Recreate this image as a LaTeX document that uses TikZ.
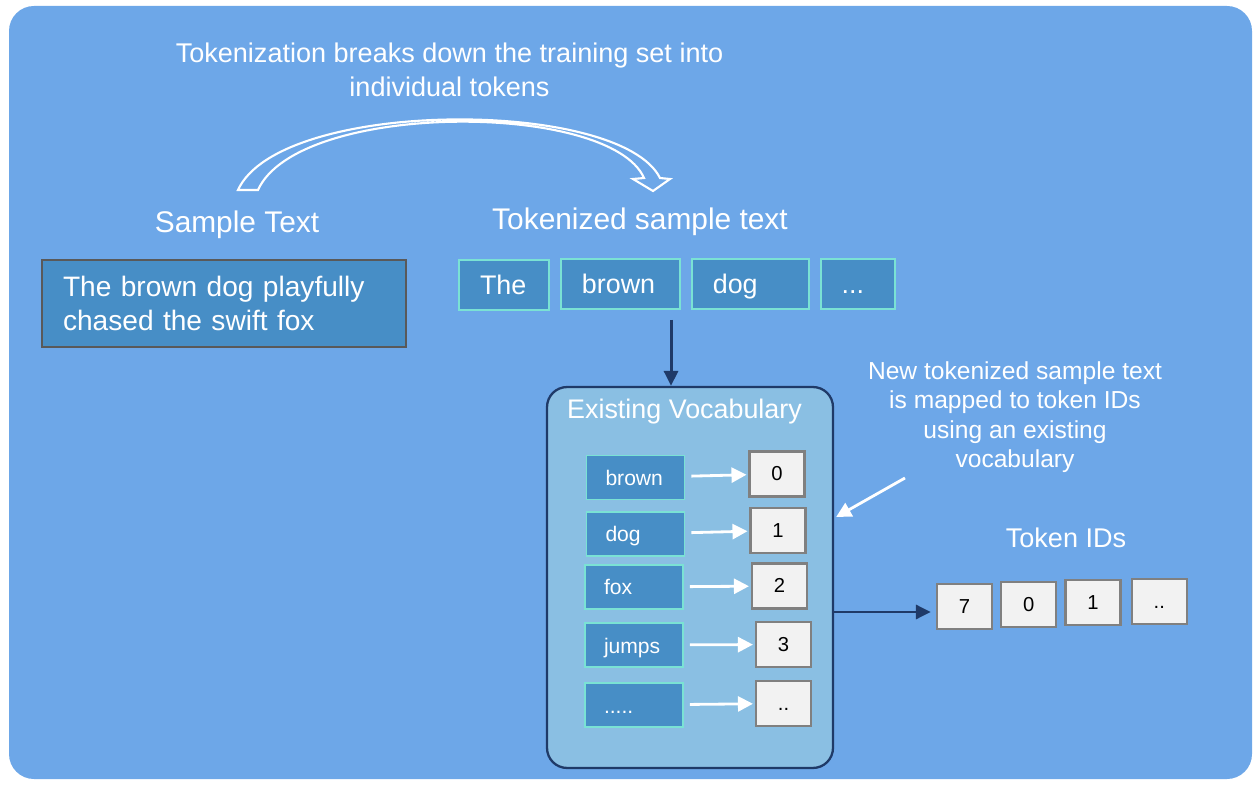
\documentclass[tikz,border=0pt]{standalone}
\usepackage{fontspec}
\setmainfont{Liberation Sans}
\usepackage{tikz}
\usetikzlibrary{arrows.meta, positioning}
\definecolor{canvasblue}{RGB}{109,167,232}
\definecolor{tokenblue}{RGB}{71,142,198}
\definecolor{vocabblue}{RGB}{138,191,227}
\definecolor{aquaedge}{RGB}{122,226,212}
\definecolor{navyline}{RGB}{31,58,104}
\definecolor{idgray}{RGB}{128,128,128}
\definecolor{idfill}{RGB}{242,242,242}

\begin{document}
\begin{tikzpicture}[
    x=0.02cm, y=-0.02cm,
    heading/.style={text=white, font=\fontsize{17}{20}\selectfont},
    tokbox/.style={rectangle, draw=aquaedge, fill=tokenblue, line width=1.1pt, text=white,
        font=\fontsize{15.3}{18}\selectfont, minimum height=1.0cm, inner xsep=0.42cm, inner ysep=0pt,
        text height=0.48cm, text depth=0.1cm, align=left},
    wordbox/.style={rectangle, draw=aquaedge, fill=tokenblue, line width=1.1pt, text=white,
        font=\fontsize{12}{14}\selectfont, minimum height=0.88cm, text width=1.2cm, inner xsep=0.38cm,
        inner ysep=0pt, text height=0.4cm, text depth=0.08cm, align=left},
    idbox/.style={rectangle, draw=idgray, fill=idfill, line width=1.3pt,
        font=\fontsize{11.5}{14}\selectfont, minimum width=1.1cm, minimum height=0.9cm,
        inner ysep=0pt, text height=0.32cm, text depth=0.05cm},
    darrow/.style={-{Triangle[length=0.3cm, width=0.28cm]}, navyline, line width=1.7pt},
    warrow/.style={-{Triangle[length=0.3cm, width=0.3cm]}, white, line width=1.6pt}
]
    \useasboundingbox (0,0) rectangle (1260,786);
    \fill[canvasblue, rounded corners=0.5cm] (9,6) rectangle (1252,779);

    % Title
    \node[text=white, align=center, font=\fontsize{15.4}{19.4}\selectfont] (title) at (449.5,70)
        {Tokenization breaks down the training set into\\individual tokens};

    % Curved block arrow
    \draw[white, line width=1.2pt, line join=miter]
        (238,190) .. controls (280,98) and (620,98) .. (660,178)
        -- (670,179) -- (653,191) -- (633,179) -- (644,178)
        .. controls (610,101) and (298,101) .. (258,190) -- cycle;

    % Sample text
    \node[heading] (samplelabel) at (237,225) {Sample Text};
    \node[rectangle, draw=black!65, fill=tokenblue, line width=1.1pt, text=white,
        font=\fontsize{16}{19.4}\selectfont, minimum width=7.28cm, minimum height=1.74cm,
        text width=6.44cm, inner xsep=0.42cm, align=left] (sample) at (224,303.5)
        {The brown dog playfully\\chased the swift fox};

    % Tokenized sample text
    \node[heading] (toklabel) at (640,222) {Tokenized sample text};
    \node[tokbox, text width=0.96cm] (tok1) at (504,285) {The};
    \node[tokbox, text width=1.54cm, right=0.2cm of tok1, yshift=0.02cm] (tok2) {brown};
    \node[tokbox, text width=1.5cm, right=0.2cm of tok2] (tok3) {dog};
    \node[tokbox, text width=0.64cm, right=0.2cm of tok3] (tok4) {...};

    % Existing vocabulary
    \node[rectangle, draw=navyline, fill=vocabblue, line width=1.3pt, rounded corners=0.4cm,
        minimum width=5.72cm, minimum height=7.62cm] (vocab) at (690,577.5) {};
    \node[text=white, anchor=west, font=\fontsize{15.3}{18}\selectfont] (vocablabel) at (561,412)
        {Existing Vocabulary};

    \coordinate (split) at (671,320);
    \draw[darrow] (split) -- (split |- vocab.north);

    % Vocabulary entries
    \node[wordbox] (wbrown) at (635.5,477.5) {brown};
    \node[wordbox] (wdog) at (635.5,534) {dog};
    \node[wordbox] (wfox) at (634,587) {fox};
    \node[wordbox] (wjumps) at (634,645) {jumps};
    \node[wordbox] (wmore) at (634,705) {.....};

    \node[idbox, right=1.26cm of wbrown, yshift=0.07cm] (v0) {0};
    \node[idbox, right=1.28cm of wdog, yshift=0.07cm] (v1) {1};
    \node[idbox, right=1.34cm of wfox, yshift=0.02cm] (v2) {2};
    \node[idbox, right=1.42cm of wjumps, yshift=0.01cm] (v3) {3};
    \node[idbox, right=1.42cm of wmore, yshift=0.03cm] (vmore) {..};

    \draw[warrow, shorten <=0.12cm, shorten >=0.04cm] (wbrown) -- (v0);
    \draw[warrow, shorten <=0.12cm, shorten >=0.04cm] (wdog) -- (v1);
    \draw[warrow, shorten <=0.12cm, shorten >=0.04cm] (wfox) -- (v2);
    \draw[warrow, shorten <=0.12cm, shorten >=0.04cm] (wjumps) -- (v3);
    \draw[warrow, shorten <=0.12cm, shorten >=0.04cm] (wmore) -- (vmore);

    % Mapping note
    \node[text=white, align=center, font=\fontsize{14}{16.7}\selectfont] (mapnote) at (1015,417)
        {New tokenized sample text\\is mapped to token IDs\\using an existing\\vocabulary};
    \coordinate (notetail) at (905,478);
    \draw[warrow] (notetail) -- ([yshift=1.21cm, xshift=0.04cm]vocab.east);

    % Token IDs
    \node[text=white, font=\fontsize{15.4}{18}\selectfont] (idlabel) at (1066,538) {Token IDs};
    \node[idbox] (id7) at (964.5,606.5) {7};
    \node[idbox, right=0.14cm of id7, yshift=0.04cm] (id0) {0};
    \node[idbox, right=0.14cm of id0, yshift=0.04cm] (id1) {1};
    \node[idbox, right=0.18cm of id1, yshift=0.02cm] (idmore) {..};

    \coordinate (outtip) at ([yshift=-0.11cm, xshift=-0.1cm]id7.west);
    \draw[darrow] (vocab.east |- outtip) -- (outtip);
\end{tikzpicture}
\end{document}
